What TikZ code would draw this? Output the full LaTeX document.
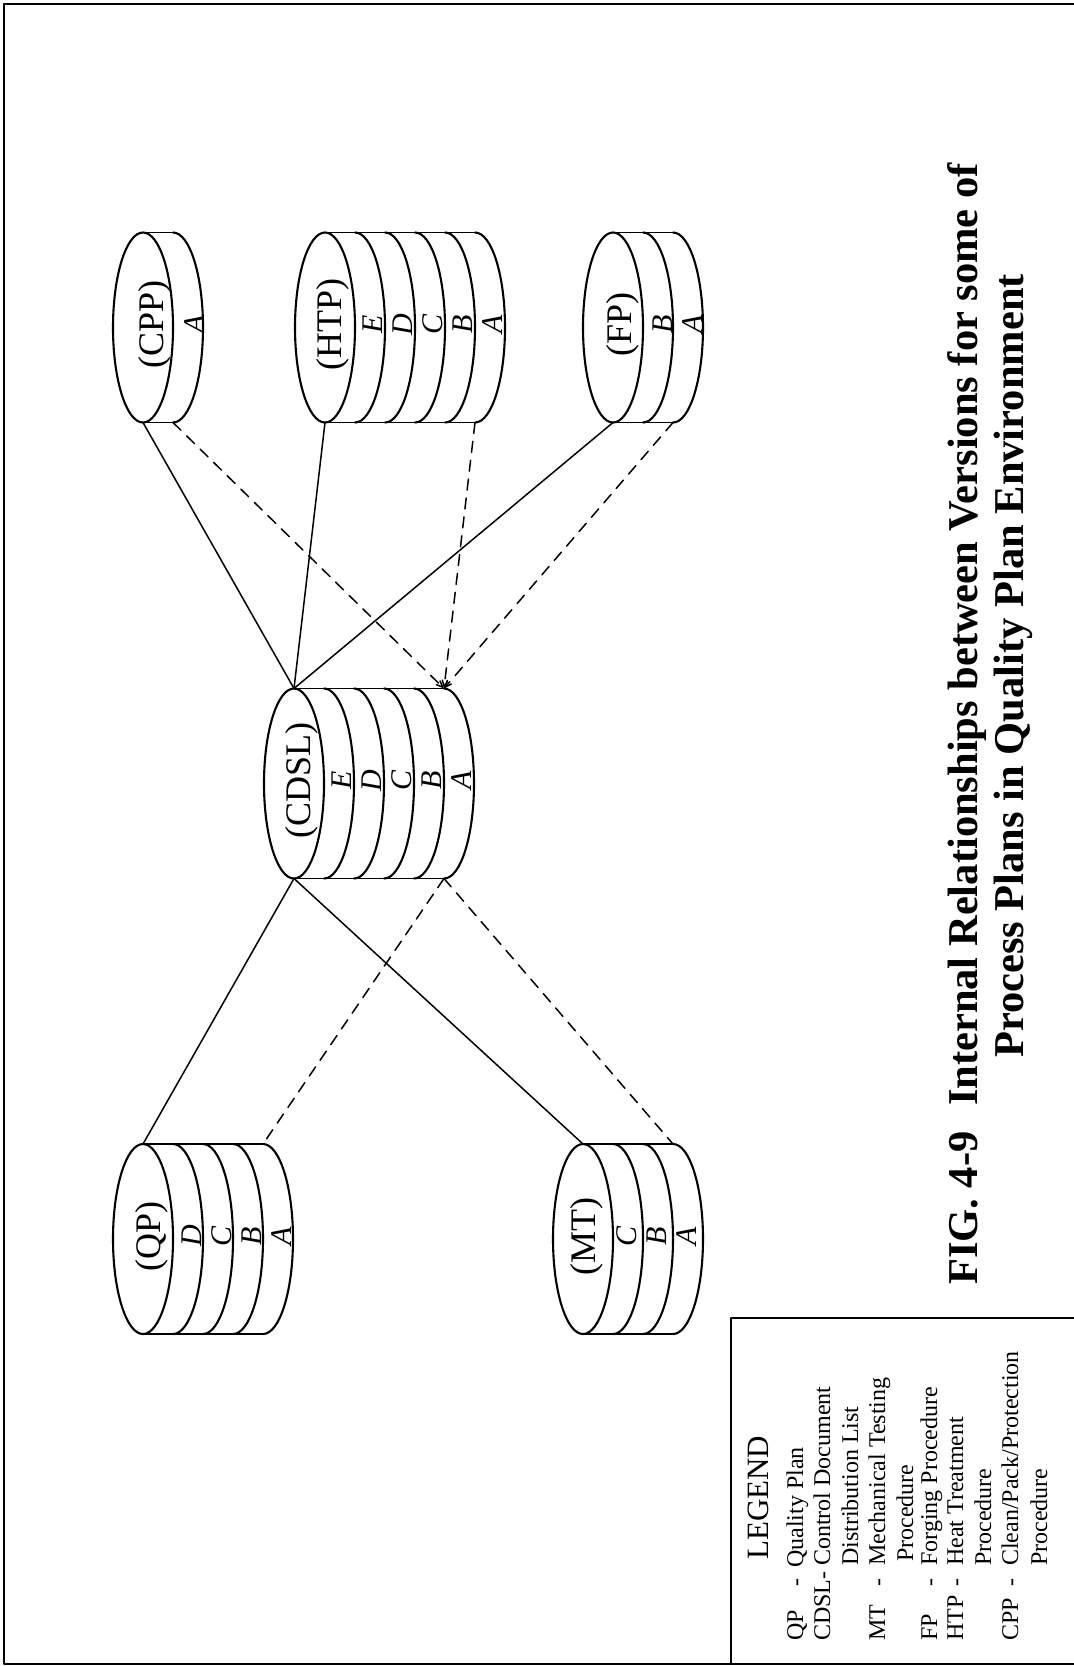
\documentclass[tikz,border=0pt]{standalone}
\usepackage{fontspec}
\setmainfont{Liberation Serif}
\usepackage{tikz}
\usetikzlibrary{arrows}
\usetikzlibrary{shapes.geometric}
\tikzset{drum/.style={draw,ellipse,rotate=90,minimum width=190pt,minimum height=60pt,inner sep=0pt,outer sep=0pt,line width=2.1pt}}
\tikzset{drumname/.style={rotate=90,anchor=base,font=\fontsize{36}{36}\selectfont}}
\tikzset{drumletter/.style={rotate=90,anchor=base,font=\fontsize{30}{30}\selectfont\itshape}}
\tikzset{legendtext/.style={rotate=90,anchor=base west,inner sep=0pt,font=\fontsize{24}{24}\selectfont}}
\tikzset{titletext/.style={rotate=90,anchor=base,inner sep=0pt,font=\fontsize{42.5}{42.5}\selectfont\bfseries}}
\tikzset{solidlink/.style={line width=1.5pt}}
\tikzset{dashlink/.style={line width=1.5pt,dash pattern=on 11pt off 8pt}}
\newcommand{\drumstack}[6][0]{
    \node[drum] (#2) at (#3,#4) {};
    \node[drumname] (#2name) at (#3+16+#1,#4-3) {(#2)};
    \draw [line width=1.6pt] (#3,#4-95) -- (#3+30*#5,#4-95);
    \draw [line width=1.6pt] (#3,#4+95) -- (#3+30*#5,#4+95);
    \foreach \k/\l in {#6} {
        \draw [line width=2.1pt] (#3+30*\k,#4-95) arc [start angle=90,end angle=-90,x radius=30pt,y radius=95pt];
        \node[drumletter] (#2\l) at (#3+27+30*\k+#1,#4-3) {\l};
    }
    \coordinate (#2top) at (#3+30*#5,#4-95);
    \coordinate (#2bot) at (#3+30*#5,#4+95);
}
\begin{document}
\begin{tikzpicture}[line cap=round,line join=round,>=angle 45,x=1pt,y=-1pt]
    \useasboundingbox (0,0) rectangle (1074,1666);
    \draw [line width=1.2pt] (1074,4) -- (4,4) -- (4,1664) -- (1074,1664);
    \draw [line width=1.5pt] (731,1664) -- (731,1318) -- (1074,1318);
    \drumstack[4]{CPP}{143}{327.5}{1}{1/A}
    \drumstack{HTP}{325}{327.5}{5}{1/E,2/D,3/C,4/B,5/A}
    \drumstack[2]{FP}{613}{327.5}{2}{1/B,2/A}
    \drumstack{CDSL}{294}{783.5}{5}{1/E,2/D,3/C,4/B,5/A}
    \drumstack[1]{QP}{143}{1239}{4}{1/D,2/C,3/B,4/A}
    \drumstack[-4]{MT}{583}{1239}{3}{1/C,2/B,3/A}
    \draw [solidlink] (CDSL.east) -- (CPP.west);
    \draw [solidlink] (CDSL.east) -- (HTP.west);
    \draw [solidlink] (CDSL.east) -- (FP.west);
    \draw [solidlink] (CDSL.west) -- (QP.east);
    \draw [solidlink] (CDSL.west) -- (MT.east);
    \draw [dashlink,->] (CPPbot) -- (CDSLtop);
    \draw [dashlink,->] (HTPbot) -- (CDSLtop);
    \draw [dashlink,->] (FPbot) -- (CDSLtop);
    \draw [dashlink] (CDSLbot) -- (QPtop);
    \draw [dashlink] (CDSLbot) -- (MTtop);
    \node[legendtext,font=\fontsize{31}{31}\selectfont] (legendhead) at (768,1560) {LEGEND};
    \node[legendtext] (qpkey) at (803,1641) {QP};
    \node[legendtext] (qpdash) at (803,1587) {-};
    \node[legendtext] (qpval) at (803,1568) {Quality Plan};
    \node[legendtext] (cdslkey) at (830,1641) {CDSL-};
    \node[legendtext] (cdslval) at (830,1566) {Control Document};
    \node[legendtext] (cdslmore) at (858,1566) {Distribution List};
    \node[legendtext] (mtkey) at (885,1641) {MT};
    \node[legendtext] (mtdash) at (885,1587) {-};
    \node[legendtext] (mtval) at (885,1566) {Mechanical Testing};
    \node[legendtext] (mtmore) at (913,1562) {Procedure};
    \node[legendtext] (fpkey) at (937,1641) {FP};
    \node[legendtext] (fpdash) at (937,1587) {-};
    \node[legendtext] (fpval) at (937,1566) {Forging Procedure};
    \node[legendtext] (htpkey) at (963,1641) {HTP};
    \node[legendtext] (htpdash) at (963,1587) {-};
    \node[legendtext] (htpval) at (963,1566) {Heat Treatment};
    \node[legendtext] (htpmore) at (991,1566) {Procedure};
    \node[legendtext] (cppkey) at (1018,1641) {CPP};
    \node[legendtext] (cppdash) at (1018,1587) {-};
    \node[legendtext] (cppval) at (1018,1566) {Clean/Pack/Protection};
    \node[legendtext] (cppmore) at (1047,1566) {Procedure};
    \node[titletext] (titlefirst) at (977,724) {FIG. 4-9\hspace{0.35em} Internal Relationships between Versions for some of};
    \node[titletext] (titlesecond) at (1023,666) {Process Plans in Quality Plan Environment};
\end{tikzpicture}
\end{document}
